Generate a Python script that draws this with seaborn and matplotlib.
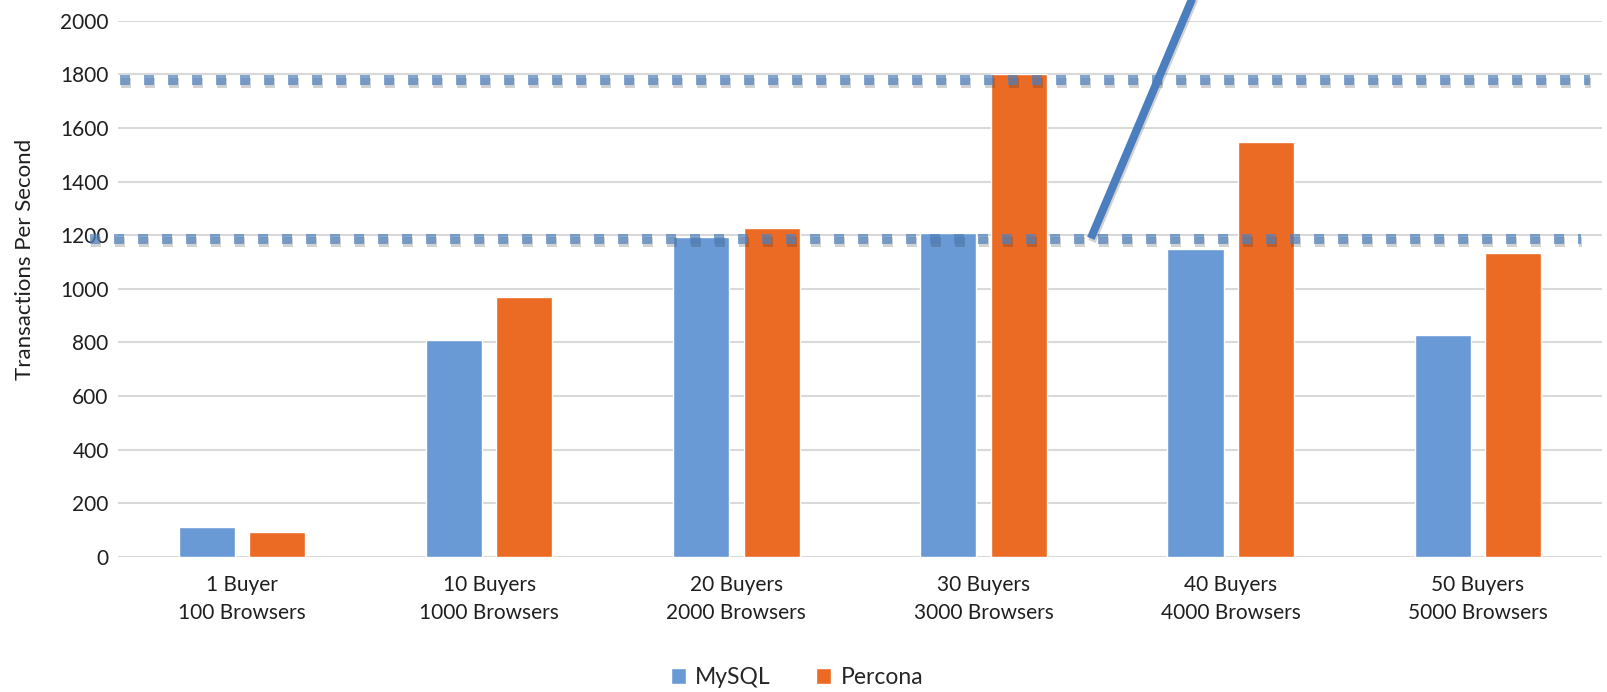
import numpy as np
import pandas as pd
import matplotlib
matplotlib.use("Agg")
import matplotlib.pyplot as plt
import matplotlib.patheffects as pe
import seaborn as sns

# values
groups = ["1 Buyer\n100 Browsers", "10 Buyers\n1000 Browsers", "20 Buyers\n2000 Browsers",
          "30 Buyers\n3000 Browsers", "40 Buyers\n4000 Browsers", "50 Buyers\n5000 Browsers"]
mysql = [112, 807, 1193, 1208, 1147, 826]
percona = [91, 971, 1228, 1800, 1546, 1132]

# dotted reference levels and their x extents (category units)
ref_levels = [1778, 1186]
ref_x_from = [-0.494, -0.615]
ref_x_to = [5.453, 5.417]

# hand-drawn diagonal stroke (category units, data units)
stroke_x = [3.434, 3.898]
stroke_y = [1188, 2200]

df = pd.DataFrame({
    "group": groups * 2,
    "tps": mysql + percona,
    "db": ["MySQL"] * len(groups) + ["Percona"] * len(groups),
})

sns.set_theme(style="white")
plt.rcParams["font.family"] = ["Lato", "DejaVu Sans"]

fig = plt.figure(figsize=(16.07, 6.92), dpi=100)
ax = fig.add_axes([0.0737, 0.1955, 0.9229, 0.7745])

colors = {"MySQL": "#6A9AD6", "Percona": "#EB6A24"}
sns.barplot(data=df, x="group", y="tps", hue="db", palette=colors,
            width=0.57, gap=0.204, saturation=1, ax=ax, legend=True)

ax.set_xlim(-0.5, 5.5)
ax.set_ylim(0, 2000)
ax.set_yticks(np.arange(0, 2001, 200))
ax.yaxis.grid(True, color="#d9d9d9", linewidth=1.5)
ax.set_axisbelow(True)
for s in ax.spines.values():
    s.set_visible(False)
ax.tick_params(axis="both", length=0, labelsize=15, colors="#1f1f1f")
ax.tick_params(axis="y", pad=7)
ax.tick_params(axis="x", pad=13)
for lab in ax.get_xticklabels():
    lab.set_linespacing(1.5)

ax.set_xlabel("")
ax.set_ylabel("Transactions Per Second", fontsize=16, color="#1f1f1f")
ax.yaxis.set_label_coords(-0.0562, 0.554)

shadow = [pe.SimpleLineShadow(offset=(0.8, -2.2), alpha=0.22, shadow_color="#333333"), pe.Normal()]
for lvl, x0, x1 in zip(ref_levels, ref_x_from, ref_x_to):
    ax.plot([x0, x1], [lvl, lvl], color="#4F81BD", alpha=0.7, linewidth=7.2,
            linestyle=(0, (1, 1.4)), solid_capstyle="butt", dash_capstyle="butt",
            clip_on=False, zorder=4, path_effects=shadow)

ax.plot(stroke_x, stroke_y, color="#4A7EBF", linewidth=5.8, solid_capstyle="butt",
        clip_on=False, zorder=5, path_effects=shadow)

handles, labels = ax.get_legend_handles_labels()
ax.get_legend().remove()
fig.legend(handles, labels, loc="center", bbox_to_anchor=(0.496, 0.021), ncol=2,
           frameon=False, fontsize=16.5, handlelength=0.65, handleheight=0.75,
           handletextpad=0.4, columnspacing=2.0)

fig.savefig("out.png", dpi=100)
